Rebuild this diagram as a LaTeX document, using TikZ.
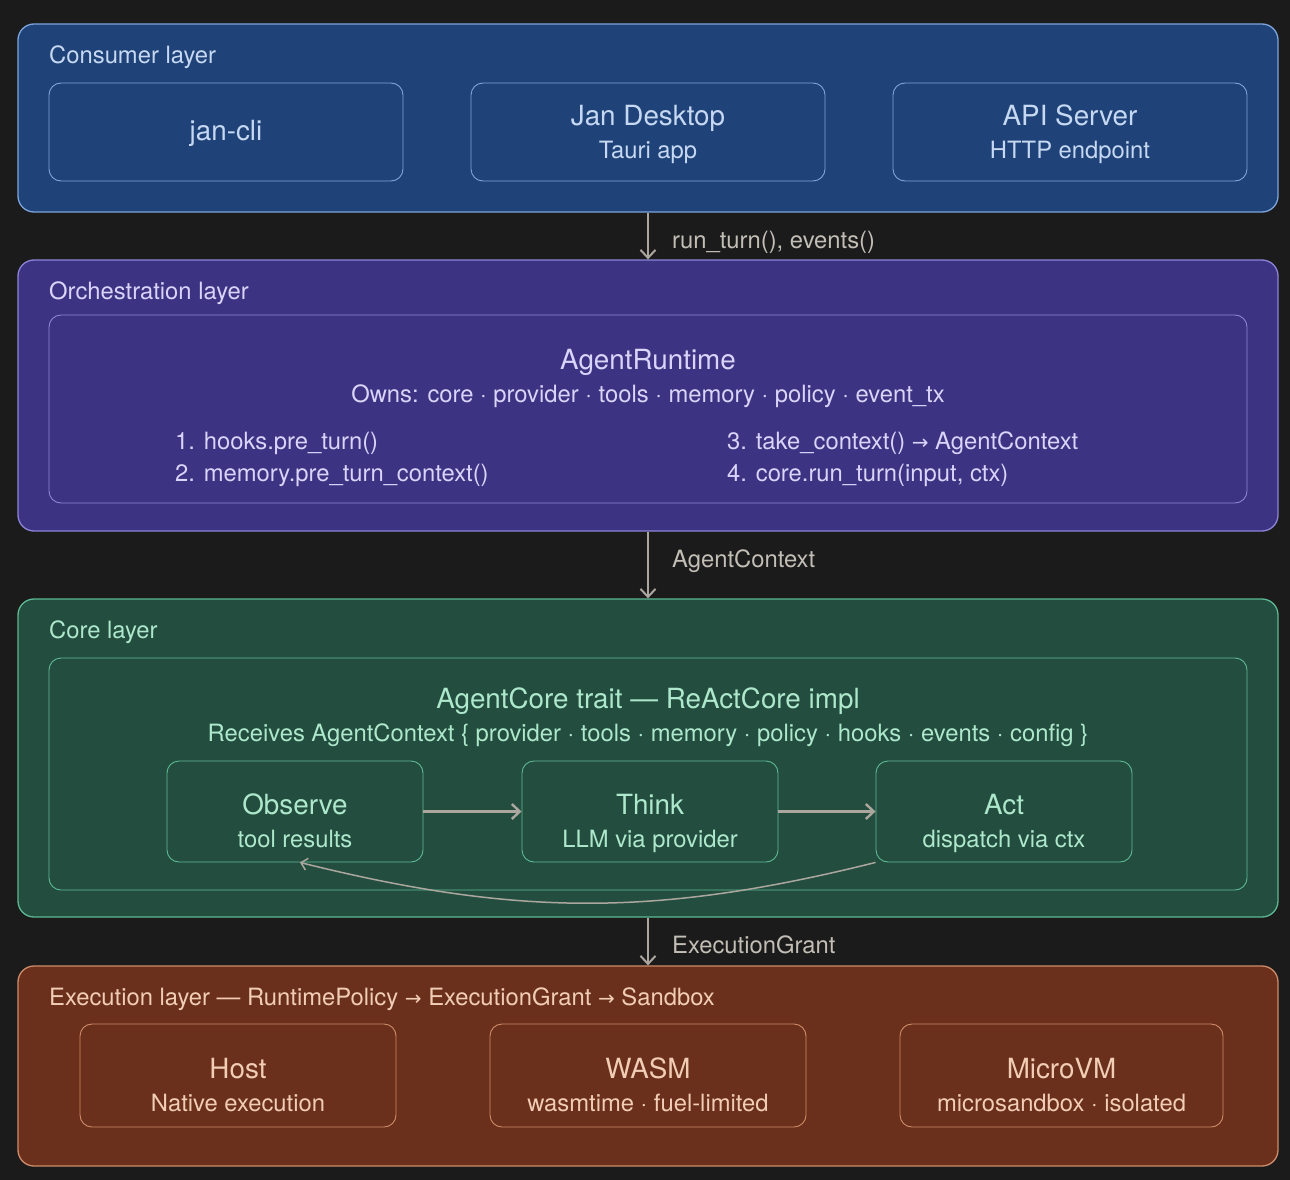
\documentclass[tikz,border=0pt]{standalone}
\usepackage{fontspec}
\setmainfont{TeX Gyre Heros}
\newfontfamily\arrowfont{DejaVu Sans}
\usetikzlibrary{arrows.meta}

\definecolor{pagebg}{HTML}{1B1B1B}
\definecolor{confill}{HTML}{1F4378}
\definecolor{conline}{HTML}{7DA4DC}
\definecolor{context}{HTML}{C6D8F2}
\definecolor{orcfill}{HTML}{3C3482}
\definecolor{orcline}{HTML}{8C84D8}
\definecolor{orctext}{HTML}{D8D4FA}
\definecolor{corfill}{HTML}{234E3F}
\definecolor{corline}{HTML}{5DB894}
\definecolor{cortext}{HTML}{AEE8CC}
\definecolor{exefill}{HTML}{6A301B}
\definecolor{exeline}{HTML}{CF8C6A}
\definecolor{exetext}{HTML}{F2CDB6}
\definecolor{flowgray}{HTML}{ABA79F}
\definecolor{flowtext}{HTML}{C2BEB6}

\newcommand{\rarr}{{\arrowfont\fontsize{20}{24}\selectfont →}}

\tikzset{
    layer/.style={draw=#1line, fill=#1fill, rounded corners=16pt, line width=1.3pt,
        minimum width=1260pt, inner sep=0pt},
    panel/.style={draw=#1line, fill=#1fill, rounded corners=12pt, line width=0.9pt,
        inner sep=0pt},
    title/.style={text=#1text, anchor=base west, font=\fontsize{23.8}{28}\selectfont, inner sep=0pt},
    big/.style={text=#1text, anchor=base, font=\fontsize{27.8}{33}\selectfont, inner sep=0pt},
    small/.style={text=#1text, anchor=base, font=\fontsize{23.8}{28}\selectfont, inner sep=0pt},
    flow/.style={draw=flowgray, line width=2pt, -{Straight Barb[length=8pt,width=15pt,line width=2pt]}},
    loopstep/.style={draw=flowgray, line width=2.6pt, -{Straight Barb[length=8pt,width=15pt,line width=2.4pt]}},
    flowlabel/.style={text=flowtext, anchor=base west, font=\fontsize{23.8}{28}\selectfont, inner sep=0pt},
}

\begin{document}
\begin{tikzpicture}[x=1pt, y=-1pt]

    \fill[pagebg] (0,0) rectangle (1290,1180);
    \useasboundingbox (0,0) rectangle (1290,1180);

    % Consumer layer
    \node[layer=con, minimum height=188pt] (consumer) at (648,118) {};
    \node[title=con] (contitle) at (49,63.5) {Consumer layer};
    \node[panel=con, minimum width=354pt, minimum height=98pt] (cli) at (226,132) {};
    \node[panel=con, minimum width=354pt, minimum height=98pt] (desktop) at (648,132) {};
    \node[panel=con, minimum width=354pt, minimum height=98pt] (api) at (1070,132) {};
    \node[big=con] (clitxt) at (226,140) {jan-cli};
    \node[big=con] (desktoptxt) at (648,125) {Jan Desktop};
    \node[small=con] (desktopsub) at (648,158.5) {Tauri app};
    \node[big=con] (apitxt) at (1070,125) {API Server};
    \node[small=con] (apisub) at (1070,158.5) {HTTP endpoint};

    % Orchestration layer
    \node[layer=orc, minimum height=271pt] (orch) at (648,395.5) {};
    \node[title=orc] (orctitle) at (49,299.5) {Orchestration layer};
    \node[panel=orc, minimum width=1198pt, minimum height=188pt] (runtime) at (648,409) {};
    \node[big=orc] (runtimetxt) at (648,369) {AgentRuntime};
    \node[small=orc] (owns) at (648,402.5) {Owns: core · provider · tools · memory · policy · event\_tx};
    \node[title=orc] (stepone) at (175,449.5) {1. hooks.pre\_turn()};
    \node[title=orc] (steptwo) at (175,481.5) {2. memory.pre\_turn\_context()};
    \node[title=orc] (stepthree) at (727,449.5) {3. take\_context() \rarr{} AgentContext};
    \node[title=orc] (stepfour) at (727,481.5) {4. core.run\_turn(input, ctx)};

    % Core layer
    \node[layer=cor, minimum height=318pt] (core) at (648,758) {};
    \node[title=cor] (cortitle) at (49,638.5) {Core layer};
    \node[panel=cor, minimum width=1198pt, minimum height=232pt] (react) at (648,774) {};
    \node[big=cor] (reacttxt) at (648,708) {AgentCore trait — ReActCore impl};
    \node[small=cor] (receives) at (648,741.5) {Receives AgentContext \{ provider · tools · memory · policy · hooks · events · config \}};
    \node[panel=cor, minimum width=256pt, minimum height=101pt] (observe) at (295,811.5) {};
    \node[panel=cor, minimum width=256pt, minimum height=101pt] (think) at (650,811.5) {};
    \node[panel=cor, minimum width=256pt, minimum height=101pt] (act) at (1004,811.5) {};
    \node[big=cor] (observetxt) at (295,814) {Observe};
    \node[small=cor] (observesub) at (295,847.5) {tool results};
    \node[big=cor] (thinktxt) at (650,814) {Think};
    \node[small=cor] (thinksub) at (650,847.5) {LLM via provider};
    \node[big=cor] (acttxt) at (1004,814) {Act};
    \node[small=cor] (actsub) at (1004,847.5) {dispatch via ctx};

    \draw[loopstep] (observe.east) -- (think.west);
    \draw[loopstep] (think.east) -- (act.west);
    \draw[draw=flowgray, line width=1.5pt, -{Straight Barb[length=6pt,width=12pt,line width=1.5pt]}]
        (act.south west) to[bend left=14] ([xshift=5pt]observe.south);

    % Execution layer
    \node[layer=exe, minimum height=200pt] (exec) at (648,1066) {};
    \node[title=exe] (exetitle) at (49,1005.5) {Execution layer — RuntimePolicy \rarr{} ExecutionGrant \rarr{} Sandbox};
    \node[panel=exe, minimum width=316pt, minimum height=103pt] (host) at (238,1075.5) {};
    \node[panel=exe, minimum width=316pt, minimum height=103pt] (wasm) at (648,1075.5) {};
    \node[panel=exe, minimum width=323pt, minimum height=103pt] (microvm) at (1061.5,1075.5) {};
    \node[big=exe] (hosttxt) at (238,1078) {Host};
    \node[small=exe] (hostsub) at (238,1111.5) {Native execution};
    \node[big=exe] (wasmtxt) at (648,1078) {WASM};
    \node[small=exe] (wasmsub) at (648,1111.5) {wasmtime · fuel-limited};
    \node[big=exe] (microvmtxt) at (1061.5,1078) {MicroVM};
    \node[small=exe] (microvmsub) at (1061.5,1111.5) {microsandbox · isolated};

    % Layer to layer
    \draw[flow] (consumer.south) -- (orch.north);
    \node[flowlabel] (calls) at (672,248.5) {run\_turn(), events()};
    \draw[flow] (orch.south) -- (core.north);
    \node[flowlabel] (ctxlabel) at (672,567.5) {AgentContext};
    \draw[flow] (core.south) -- (exec.north);
    \node[flowlabel] (grantlabel) at (672,953.5) {ExecutionGrant};

\end{tikzpicture}
\end{document}
